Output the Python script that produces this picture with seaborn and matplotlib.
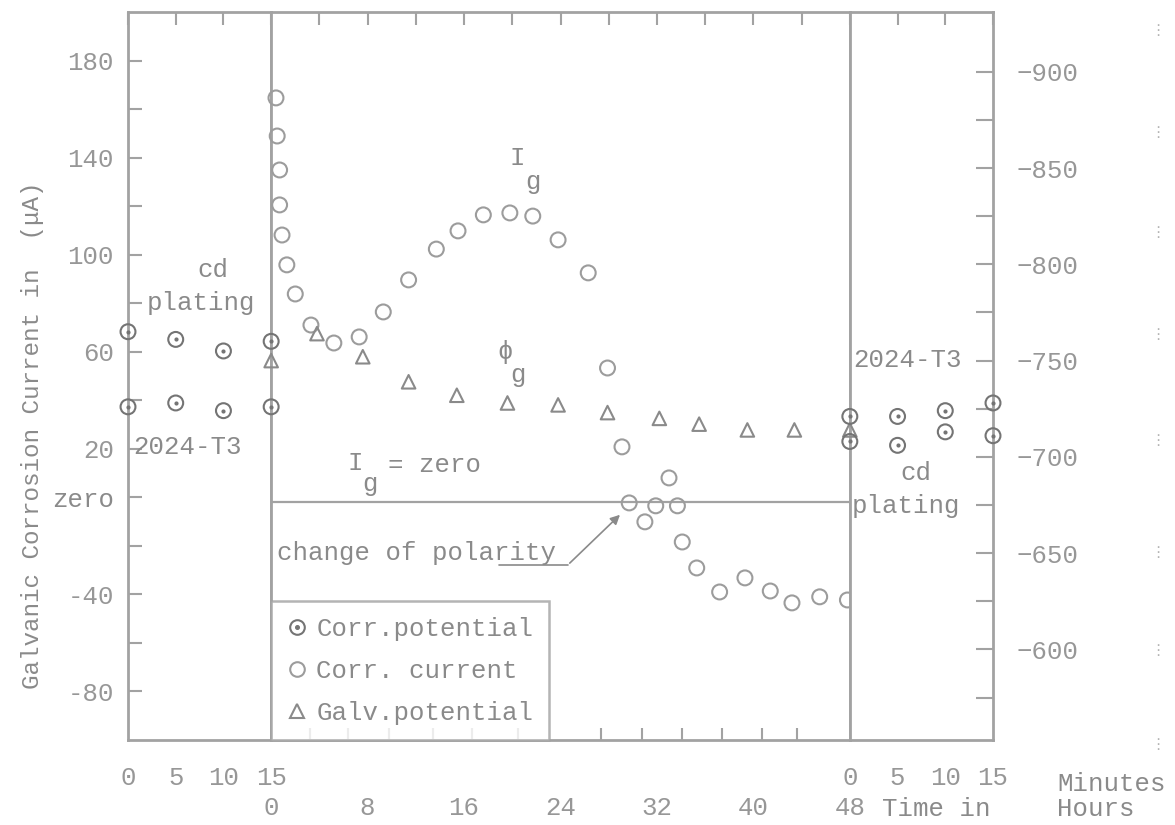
import matplotlib
matplotlib.use('Agg')
import matplotlib.pyplot as plt
import seaborn as sns
from matplotlib.lines import Line2D

# ---- data ----
# left panel: minutes before coupling (corrosion potentials, mV)
minutes_before = [0, 5, 10, 15]
cd_pot_before = [-765, -761, -755, -760]
t3_pot_before = [-726, -728, -724, -726]

# middle panel: coupled, time in hours
current_hours = [0.4, 0.5, 0.7, 0.7, 0.9, 1.3, 2.0, 3.3, 5.2, 7.3, 9.3, 11.4, 13.7,
                 15.5, 17.6, 19.8, 21.7, 23.8, 26.3, 27.9, 29.1, 29.7, 31.0, 31.9,
                 33.0, 33.7, 34.1, 35.3, 37.2, 39.3, 41.4, 43.2, 45.5, 47.8]
galv_current = [164.6, 148.9, 134.9, 120.5, 108.1, 95.8, 83.8, 71.0, 63.6, 66.1, 76.4,
                89.6, 102.3, 109.8, 116.4, 117.2, 115.9, 106.1, 92.5, 53.3, 20.8, -2.3,
                -10.1, -3.5, 8.0, -3.5, -18.4, -29.1, -39.0, -33.2, -38.6, -43.5, -41.0, -42.3]
galv_hours = [0, 3.8, 7.6, 11.4, 15.4, 19.6, 23.8, 27.9, 32.2, 35.5, 39.5, 43.4, 48]
galv_pot = [-750, -764, -752, -739, -732, -728, -727, -723, -720, -717, -714, -714, -714]

# right panel: minutes after uncoupling
minutes_after = [0, 5, 10, 15]
t3_pot_after = [-721, -721, -724, -728]
cd_pot_after = [-708, -706, -713, -711]

# axis ticks
cur_ticks = [180, 140, 100, 60, 20, 0, -40, -80]
cur_labels = ['180', '140', '100', '60', '20', 'zero', '-40', '-80']
cur_minor = [160, 120, 80, 40, -20, -60]
pot_ticks = [-900, -850, -800, -750, -700, -650, -600]
pot_minor = [-875, -825, -775, -725, -675, -625, -575]
hour_ticks = [0, 8, 16, 24, 32, 40, 48]
hour_bottom_minor = [3.2, 6.4, 9.8, 13.4, 16.7, 20.5, 24.0, 27.4, 30.8, 34.1, 37.4, 40.7, 43.6]
hour_top_ticks = [4, 8, 12, 16, 20, 24, 28, 32, 36, 40, 44]
minute_ticks = [0, 5, 10, 15]

sns.set_theme(style='white')
MONO = ['Liberation Mono', 'DejaVu Sans Mono']
plt.rcParams['font.family'] = MONO

LINE = '#a2a2a2'
TXT = '#8a8a8a'
NUM = '#979797'
DARK = '#747474'
MID = '#8a8a8a'
LIGHT = '#9c9c9c'
FS = 18.5

W, H = 1175, 825
fig, axes = plt.subplots(1, 3, figsize=(W / 100, H / 100), dpi=100, sharey=True,
                         gridspec_kw=dict(width_ratios=[143, 578, 143], wspace=0))
fig.subplots_adjust(left=128 / W, right=993 / W, top=1 - 12 / H, bottom=1 - 740 / H)
twins = [ax.twinx() for ax in axes]

axes[0].set_ylim(-100, 200)
for tw in twins:
    tw.set_ylim(-553, -931)


def rings(ax, x, y, c, m='o', s=115):
    sns.scatterplot(x=x, y=y, ax=ax, marker=m, s=s, facecolor='none', edgecolor=c,
                    linewidth=1.5, clip_on=False, zorder=5, legend=False)


def dotrings(ax, x, y):
    rings(ax, x, y, DARK)
    sns.scatterplot(x=x, y=y, ax=ax, marker='o', s=9, color=DARK, linewidth=0,
                    clip_on=False, zorder=6, legend=False)


# left panel
dotrings(twins[0], minutes_before, cd_pot_before)
dotrings(twins[0], minutes_before, t3_pot_before)
# middle panel
rings(axes[1], current_hours, galv_current, LIGHT)
rings(twins[1], galv_hours, galv_pot, MID, m='^', s=95)
# right panel
dotrings(twins[2], minutes_after, t3_pot_after)
dotrings(twins[2], minutes_after, cd_pot_after)

# spines and ticks
for ax in axes:
    for sp in ax.spines.values():
        sp.set_color(LINE)
        sp.set_linewidth(2)
    ax.set_xlabel('')
    ax.set_ylabel('')
for tw in twins:
    for sp in tw.spines.values():
        sp.set_visible(False)
    tw.set_ylabel('')

axes[0].set_yticks(cur_ticks)
axes[0].set_yticklabels(cur_labels)
axes[0].set_yticks(cur_minor, minor=True)
axes[0].tick_params(axis='y', which='both', direction='in', length=10, width=1.5,
                    color=LINE, labelcolor=NUM, labelsize=FS, pad=10)
for lab in axes[0].get_yticklabels():
    if lab.get_text() == 'zero':
        lab.set_color(TXT)
for ax in axes[1:]:
    ax.tick_params(axis='y', which='both', left=False, labelleft=False)
for tw in twins[:2]:
    tw.tick_params(axis='y', which='both', right=False, labelright=False)
twins[2].set_yticks(pot_ticks)
twins[2].set_yticks(pot_minor, minor=True)
twins[2].tick_params(axis='y', which='both', direction='in', length=12, width=1.5,
                     color=LINE, labelcolor=NUM, labelsize=FS, pad=17)

for ax in (axes[0], axes[2]):
    ax.set_xlim(0, 15)
    ax.set_xticks(minute_ticks)
    ax.tick_params(axis='x', direction='in', top=True, length=9, width=1.5,
                   color=LINE, labelcolor=NUM, labelsize=FS, pad=19)

axes[1].set_xlim(0, 48)
axes[1].set_xticks(hour_ticks)
axes[1].set_xticks(hour_bottom_minor, minor=True)
axes[1].tick_params(axis='x', which='major', length=0, labelcolor=NUM,
                    labelsize=FS, pad=40)
axes[1].tick_params(axis='x', which='minor', direction='in', length=9, width=1.5,
                    color=LINE, bottom=True, top=False)
sec = axes[1].secondary_xaxis('top')
sec.set_xticks(hour_top_ticks)
sec.tick_params(axis='x', direction='in', length=9, width=1.5, color=LINE,
                labeltop=False)
sec.spines['top'].set_visible(False)

# I_g = zero line and polarity arrow
axes[1].axhline(-2, color=LINE, lw=1.6, zorder=2)
axes[1].plot([18.9, 24.6], [-27.9, -27.9], color=MID, lw=1.2)
axes[1].annotate('', xy=(29.1, -6.4), xytext=(24.6, -27.9),
                 arrowprops=dict(arrowstyle='-|>', color=MID, lw=1.2, mutation_scale=14))

# legend
h_pot = (Line2D([], [], ls='', marker='o', ms=10.5, mfc='none', mec=DARK, mew=1.5),
         Line2D([], [], ls='', marker='o', ms=2.6, color=DARK))
h_cur = Line2D([], [], ls='', marker='o', ms=10.5, mfc='none', mec=LIGHT, mew=1.5)
h_gal = Line2D([], [], ls='', marker='^', ms=10, mfc='none', mec=MID, mew=1.5)
leg = axes[1].legend([h_pot, h_cur, h_gal],
                     ['Corr.potential', 'Corr. current', 'Galv.potential'],
                     loc='lower left', bbox_to_anchor=(0, 0), borderaxespad=0,
                     frameon=True, fancybox=False, edgecolor=LINE,
                     prop=dict(family=MONO, size=FS), labelcolor=TXT,
                     handlelength=0.8, handletextpad=0.35, labelspacing=0.7,
                     borderpad=0.6)
leg.get_frame().set_linewidth(1.8)
leg.set_zorder(10)


def ftext(x, y, s, ha='left', **kw):
    kw.setdefault('fontsize', FS)
    kw.setdefault('color', TXT)
    kw.setdefault('fontfamily', MONO)
    fig.text(x / W, 1 - y / H, s, ha=ha, va='center', **kw)


ftext(33, 435, 'Galvanic Corrosion Current in  (\u03bcA)', ha='center', rotation=90,
      fontsize=17.5)
ftext(213, 270, 'cd', ha='center')
ftext(147, 303, 'plating')
ftext(133, 447, '2024-T3')
ftext(510, 158, 'I')
ftext(525, 182, 'g')
ftext(497, 352, '\u03d5')
ftext(510, 375, 'g')
ftext(347, 463, 'I')
ftext(362, 484, 'g')
ftext(388, 465, '= zero')
ftext(277, 553, 'change of polarity')
ftext(853, 360, '2024-T3')
ftext(916, 473, 'cd', ha='center')
ftext(852, 506, 'plating')
ftext(1057, 784, 'Minutes')
ftext(882, 809, 'Time in')
ftext(1057, 809, 'Hours')

# faint scanner marks along the right margin
for yy in [30, 133, 232, 335, 440, 553, 650, 745]:
    ftext(1158, yy, '\u22ee', ha='center', fontsize=11, color='#b4b4b4',
          fontfamily=['DejaVu Sans'])

fig.savefig('out.png', dpi=100)
